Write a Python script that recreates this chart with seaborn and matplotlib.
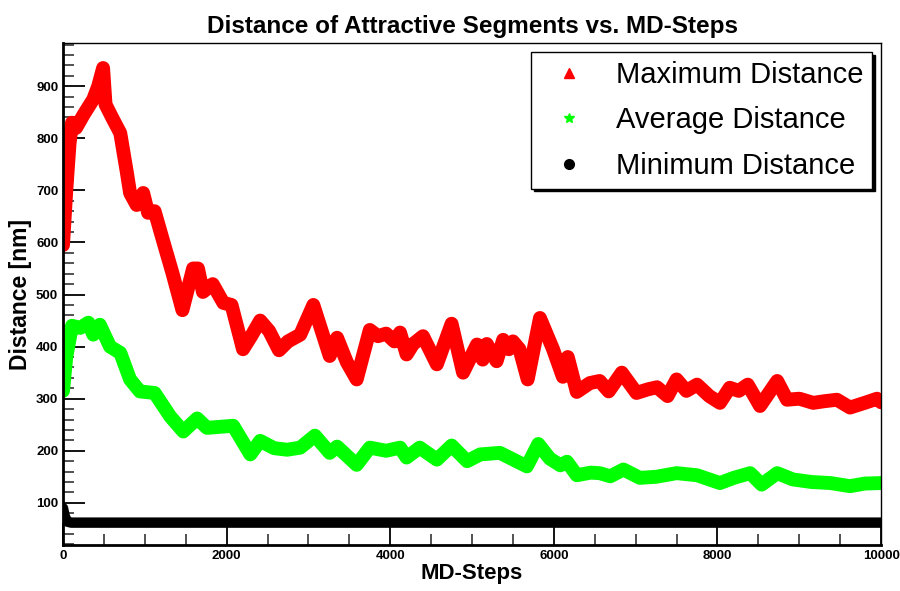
import matplotlib
matplotlib.use("Agg")
import matplotlib.pyplot as plt
from matplotlib.lines import Line2D
from matplotlib.ticker import MultipleLocator
import pandas as pd
import seaborn as sns

# Values
max_steps = [0, 40, 80, 110, 160, 250, 370, 430, 490, 520, 600, 700, 780, 820, 900, 980,
             1040, 1120, 1220, 1340, 1460, 1590, 1650, 1710, 1830, 1960, 2060, 2200, 2300,
             2410, 2520, 2640, 2750, 2900, 3060, 3260, 3350, 3470, 3590, 3750, 3850, 3950,
             4050, 4120, 4200, 4280, 4400, 4570, 4750, 4890, 5060, 5130, 5180, 5300, 5380,
             5450, 5500, 5580, 5680, 5830, 5990, 6110, 6170, 6280, 6440, 6560, 6670, 6830,
             7010, 7150, 7260, 7390, 7500, 7620, 7750, 7900, 8030, 8150, 8260, 8370, 8520,
             8730, 8850, 9000, 9170, 9300, 9460, 9620, 9800, 9950, 10000]
max_dist = [595, 700, 790, 830, 820, 845, 875, 900, 935, 865, 840, 810, 735, 695, 672, 695,
            657, 660, 605, 540, 470, 550, 550, 505, 520, 484, 480, 395, 420,
            450, 430, 393, 410, 423, 480, 382, 417, 370, 337, 432, 420, 425,
            410, 427, 385, 405, 420, 366, 444, 350, 404, 375, 405, 372, 413,
            395, 410, 395, 337, 455, 395, 342, 380, 313, 330, 334, 314, 350,
            311, 318, 322, 305, 337, 315, 327, 305, 292, 321, 315, 327, 286,
            334, 298, 300, 292, 295, 298, 283, 292, 300, 293]

avg_steps = [0, 40, 110, 210, 310, 370, 450, 575, 700, 820, 940, 1120, 1310, 1470, 1640,
             1760, 1920, 2080, 2290, 2410, 2580, 2740, 2900, 3080, 3260, 3350, 3590, 3750,
             3950, 4120, 4200, 4360, 4570, 4750, 4940, 5100, 5340, 5670, 5810, 5950, 6080,
             6160, 6280, 6450, 6560, 6690, 6850, 7050, 7250, 7500, 7750, 8030, 8200, 8400,
             8540, 8730, 8920, 9150, 9380, 9620, 9800, 10000]
avg_dist = [315, 380, 440, 436, 446, 423, 442, 400, 388, 337, 314, 311, 266, 237, 262,
            244, 246, 248, 193, 219, 205, 202, 206, 229, 196, 208, 173, 206,
            200, 206, 187, 206, 183, 210, 180, 193, 196, 170, 213, 185, 172,
            179, 153, 158, 157, 151, 164, 148, 150, 157, 153, 138, 148, 157,
            135, 157, 145, 140, 138, 132, 137, 138]

min_steps = [0, 20, 50, 100, 10000]
min_dist = [90, 75, 64, 62, 62]

df_max = pd.DataFrame({"step": max_steps, "dist": max_dist})
df_avg = pd.DataFrame({"step": avg_steps, "dist": avg_dist})
df_min = pd.DataFrame({"step": min_steps, "dist": min_dist})

sns.set_style("white")
plt.rcParams["font.family"] = ["Liberation Sans", "DejaVu Sans"]
plt.rcParams["text.color"] = "black"
plt.rcParams["axes.labelcolor"] = "black"
plt.rcParams["xtick.color"] = "black"
plt.rcParams["ytick.color"] = "black"

fig = plt.figure(figsize=(9, 5.91), dpi=100)
ax = fig.add_axes([0.07, 0.0778, 0.909, 0.8494])

sns.lineplot(data=df_max, x="step", y="dist", color="#ff0000", linewidth=10,
             solid_capstyle="round", solid_joinstyle="round", ax=ax)
sns.lineplot(data=df_avg, x="step", y="dist", color="#00ff00", linewidth=10,
             solid_capstyle="round", solid_joinstyle="round", ax=ax)
sns.lineplot(data=df_min, x="step", y="dist", color="black", linewidth=7.5,
             solid_capstyle="round", solid_joinstyle="round", ax=ax)

ax.set_xlim(0, 10000)
ax.set_ylim(19, 983)
ax.xaxis.set_major_locator(MultipleLocator(2000))
ax.xaxis.set_minor_locator(MultipleLocator(500))
ax.yaxis.set_major_locator(MultipleLocator(100))
ax.yaxis.set_minor_locator(MultipleLocator(20))
ax.set_yticks(range(100, 1000, 100))
ax.tick_params(which="major", direction="in", length=16, width=1.3, color="black",
               labelsize=9.5, labelcolor="black", top=False, right=False)
ax.tick_params(which="minor", direction="in", length=8, width=1.3, color="#444444",
               top=False, right=False)
ax.tick_params(axis="y", which="both", left=True)
ax.tick_params(axis="x", which="both", bottom=True)
for lbl in ax.get_xticklabels() + ax.get_yticklabels():
    lbl.set_fontweight("bold")
for side in ["left", "bottom"]:
    ax.spines[side].set_linewidth(2)
    ax.spines[side].set_color("black")
for side in ["top", "right"]:
    ax.spines[side].set_linewidth(1)
    ax.spines[side].set_color("black")

ax.set_xlabel("MD-Steps", fontsize=16, fontweight="bold", labelpad=1)
ax.set_ylabel("Distance [nm]", fontsize=16.5, fontweight="bold", labelpad=3)
ax.set_title("Distance of Attractive Segments vs. MD-Steps", fontsize=17.5,
             fontweight="bold", pad=7)

handles = [
    Line2D([], [], marker="^", color="#ff0000", linestyle="none", markersize=7),
    Line2D([], [], marker="*", color="#00ff00", linestyle="none", markersize=7),
    Line2D([], [], marker="o", color="black", linestyle="none", markersize=7),
]
labels = ["Maximum Distance", "Average Distance", "Minimum Distance"]
ax.legend(handles, labels, loc="upper right", bbox_to_anchor=(0.989, 0.982),
          fontsize=21, frameon=True, fancybox=False, edgecolor="black",
          framealpha=1, shadow={"color": "black", "alpha": 1},
          labelspacing=0.6, handletextpad=0.6, borderpad=0.3, borderaxespad=0)

fig.savefig("out.png", dpi=100)
